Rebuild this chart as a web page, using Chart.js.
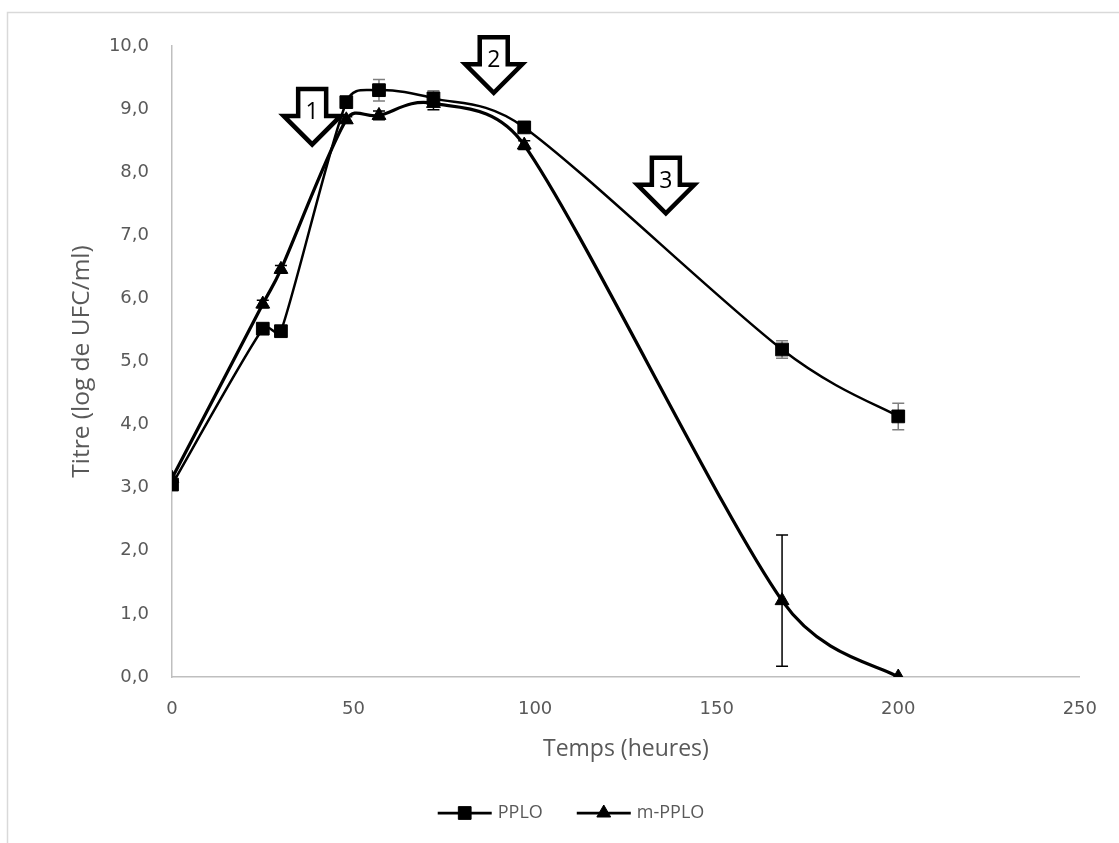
<!DOCTYPE html>
<html>
<head>
<meta charset="utf-8">
<script src="https://cdn.jsdelivr.net/npm/chart.js@4.4.1/dist/chart.umd.min.js"></script>
<style>
  html, body { margin: 0; padding: 0; background: #fff; overflow: hidden; }
  #wrap { position: relative; width: 1119px; height: 843px; }
</style>
</head>
<body>
<div id="wrap"><canvas id="c" width="1119" height="843"></canvas></div>
<script>
// Sampling times (hours)
const hours = [0, 25, 30, 48, 57, 72, 97, 168, 200];

// Titre (log UFC/ml) per medium, with standard deviations
const pploTitre  = [3.05, 5.52, 5.48, 9.11, 9.30, 9.17, 8.71, 5.19, 4.13];
const pploErr    = [0, 0.04, 0.04, 0.04, 0.17, 0.12, 0.04, 0.14, 0.21];
const mpploTitre = [3.15, 5.91, 6.46, 8.83, 8.90, 9.09, 8.43, 1.21, 0.00];
const mpploErr   = [0, 0.06, 0.06, 0.05, 0.07, 0.10, 0.07, 1.04, 0];

// Axis ticks
const xTicks = [0, 50, 100, 150, 200, 250];
const yTicks = [0, 1, 2, 3, 4, 5, 6, 7, 8, 9, 10];

// Numbered phase arrows: label, tip position (hours, titre)
const arrowLabels = ['1', '2', '3'];
const arrowHours  = [38.6, 88.6, 136.0];
const arrowTitre  = [8.40, 9.22, 7.31];

const GRAY_TEXT = '#595959';
const AXIS_GRAY = '#bfbfbf';
const TITLE_FONT = "'Open Sans', sans-serif";
const TICK_FONT = "'DejaVu Sans', sans-serif";

const toPoints = (xs, ys) => xs.map((x, i) => ({ x: x, y: ys[i] }));

// Outer frame of the chart
const frame = {
  id: 'frame',
  beforeDraw(chart) {
    const ctx = chart.ctx;
    ctx.save();
    ctx.fillStyle = '#fff';
    ctx.fillRect(0, 0, chart.width, chart.height);
    ctx.strokeStyle = '#d9d9d9';
    ctx.lineWidth = 1.5;
    ctx.strokeRect(7.5, 12.5, chart.width + 20, chart.height + 20);
    ctx.restore();
  }
};

// Smoothed lines: Catmull-Rom tangents (chord/6), each arm limited to
// half the length of the segment it lies on so short segments don't loop
const smoothLines = {
  id: 'smoothLines',
  beforeDatasetDraw(chart, args) {
    const meta = args.meta;
    const line = meta.dataset;
    if (!line) return;
    line.updateControlPoints(chart.chartArea, meta.indexAxis);
    const pts = meta.data;
    const n = pts.length;
    const limit = (dx, dy, maxLen) => {
      const len = Math.hypot(dx, dy);
      if (len > maxLen && len > 0) {
        const k = maxLen / len;
        return [dx * k, dy * k];
      }
      return [dx, dy];
    };
    for (let i = 0; i < n; i++) {
      const p = pts[i];
      const prev = pts[Math.max(0, i - 1)];
      const next = pts[Math.min(n - 1, i + 1)];
      const dx = (next.x - prev.x) / 6;
      const dy = (next.y - prev.y) / 6;
      const segIn = Math.hypot(p.x - prev.x, p.y - prev.y);
      const segOut = Math.hypot(next.x - p.x, next.y - p.y);
      const a = limit(dx, dy, 0.5 * segIn);
      const b = limit(dx, dy, 0.5 * segOut);
      p.cp1x = p.x - a[0]; p.cp1y = p.y - a[1];
      p.cp2x = p.x + b[0]; p.cp2y = p.y + b[1];
    }
  }
};

// Vertical error bars with caps
const errorBars = {
  id: 'errorBars',
  beforeDatasetsDraw(chart) {
    const { ctx, scales: { x, y } } = chart;
    ctx.save();
    chart.data.datasets.forEach(ds => {
      ctx.strokeStyle = ds.errorColor;
      ctx.lineWidth = ds.errorWidth;
      ds.data.forEach((p, j) => {
        const e = ds.errors[j];
        if (!e) return;
        const px = x.getPixelForValue(p.x);
        const top = y.getPixelForValue(p.y + e);
        const bot = y.getPixelForValue(p.y - e);
        const cap = ds.errorCap;
        ctx.beginPath();
        ctx.moveTo(px, top); ctx.lineTo(px, bot);
        ctx.moveTo(px - cap, top); ctx.lineTo(px + cap, top);
        ctx.moveTo(px - cap, bot); ctx.lineTo(px + cap, bot);
        ctx.stroke();
      });
    });
    ctx.restore();
  }
};

// Block arrows marking phases
const phaseArrows = {
  id: 'phaseArrows',
  afterDatasetsDraw(chart) {
    const { ctx, scales: { x, y } } = chart;
    ctx.save();
    arrowLabels.forEach((label, i) => {
      const tx = x.getPixelForValue(arrowHours[i]);
      const ty = y.getPixelForValue(arrowTitre[i]) - 2.5;
      ctx.beginPath();
      ctx.moveTo(tx - 14, ty - 55.5);
      ctx.lineTo(tx + 14, ty - 55.5);
      ctx.lineTo(tx + 14, ty - 28.5);
      ctx.lineTo(tx + 28.5, ty - 28.5);
      ctx.lineTo(tx, ty);
      ctx.lineTo(tx - 28.5, ty - 28.5);
      ctx.lineTo(tx - 14, ty - 28.5);
      ctx.closePath();
      ctx.fillStyle = '#fff';
      ctx.fill();
      ctx.lineWidth = 4.5;
      ctx.lineJoin = 'miter';
      ctx.strokeStyle = '#000';
      ctx.stroke();
      ctx.fillStyle = '#000';
      ctx.font = "23px " + TITLE_FONT;
      ctx.textAlign = 'center';
      ctx.textBaseline = 'middle';
      ctx.fillText(label, tx, ty - 32);
    });
    ctx.restore();
  }
};

// Legend: line sample with marker, then series name
const lineLegend = {
  id: 'lineLegend',
  afterDraw(chart) {
    const ctx = chart.ctx;
    const cy = 813;
    const lineLen = 54, gap = 6, itemGap = 34;
    ctx.save();
    ctx.font = "18px " + TITLE_FONT;
    const items = chart.data.datasets.map(ds => ({ ds, w: lineLen + gap + ctx.measureText(ds.label).width }));
    const total = items.reduce((s, it) => s + it.w, 0) + itemGap * (items.length - 1);
    let x0 = 571 - total / 2;
    items.forEach(it => {
      const ds = it.ds;
      ctx.strokeStyle = ds.borderColor;
      ctx.lineWidth = 2.75;
      ctx.beginPath();
      ctx.moveTo(x0, cy); ctx.lineTo(x0 + lineLen, cy);
      ctx.stroke();
      ctx.fillStyle = '#000';
      ctx.strokeStyle = '#000';
      ctx.lineWidth = 1;
      Chart.helpers.drawPoint(ctx, {
        pointStyle: ds.pointStyle, radius: ds.pointRadius, borderWidth: 1, rotation: 0
      }, x0 + lineLen / 2, cy);
      ctx.fillStyle = GRAY_TEXT;
      ctx.textAlign = 'left';
      ctx.textBaseline = 'middle';
      ctx.fillText(ds.label, x0 + lineLen + gap, cy);
      x0 += it.w + itemGap;
    });
    ctx.restore();
  }
};

new Chart(document.getElementById('c'), {
  type: 'line',
  data: {
    datasets: [
      {
        label: 'PPLO',
        data: toPoints(hours, pploTitre),
        errors: pploErr,
        errorColor: '#7f7f7f',
        errorWidth: 1.5,
        errorCap: 6,
        borderColor: '#000',
        backgroundColor: '#000',
        borderWidth: 2.5,
        pointStyle: 'rect',
        pointRadius: 9,
        pointBorderWidth: 1,
        pointBackgroundColor: '#000',
        pointBorderColor: '#000',
        tension: 0.4
      },
      {
        label: 'm-PPLO',
        data: toPoints(hours, mpploTitre),
        errors: mpploErr,
        errorColor: '#000',
        errorWidth: 1.5,
        errorCap: 6,
        borderColor: '#000',
        backgroundColor: '#000',
        borderWidth: 3.25,
        pointStyle: 'triangle',
        pointRadius: 8,
        pointBorderWidth: 1,
        pointBackgroundColor: '#000',
        pointBorderColor: '#000',
        tension: 0.4
      }
    ]
  },
  options: {
    responsive: false,
    animation: false,
    devicePixelRatio: 1,
    layout: { padding: { left: 0, top: 46, right: 28, bottom: 66 } },
    plugins: {
      legend: { display: false },
      tooltip: { enabled: false }
    },
    scales: {
      x: {
        type: 'linear',
        min: 0,
        max: 250,
        afterBuildTicks: s => { s.ticks = xTicks.map(v => ({ value: v })); },
        afterFit: s => { s.height = 100; },
        grid: { display: false, drawTicks: false },
        border: { display: true, color: AXIS_GRAY, width: 1.5 },
        ticks: {
          padding: 22,
          color: GRAY_TEXT,
          font: { family: TICK_FONT, size: 18 },
          maxRotation: 0,
          callback: v => String(v)
        },
        title: {
          display: true,
          text: 'Temps (heures)',
          color: GRAY_TEXT,
          font: { family: TITLE_FONT, size: 23 },
          padding: { top: 0, bottom: 14 }
        }
      },
      y: {
        type: 'linear',
        min: 0,
        max: 10,
        afterBuildTicks: s => { s.ticks = yTicks.map(v => ({ value: v })); },
        afterFit: s => { s.width = 172; },
        grid: { display: false, drawTicks: false },
        border: { display: true, color: AXIS_GRAY, width: 1.5 },
        ticks: {
          padding: 23,
          color: GRAY_TEXT,
          font: { family: TICK_FONT, size: 18 },
          callback: v => v.toFixed(1).replace('.', ',')
        },
        title: {
          display: true,
          text: 'Titre (log de UFC/ml)',
          color: GRAY_TEXT,
          font: { family: TITLE_FONT, size: 24.5 },
          padding: { top: 67, bottom: 0 }
        }
      }
    }
  },
  plugins: [frame, smoothLines, errorBars, phaseArrows, lineLegend]
});
</script>
</body>
</html>
